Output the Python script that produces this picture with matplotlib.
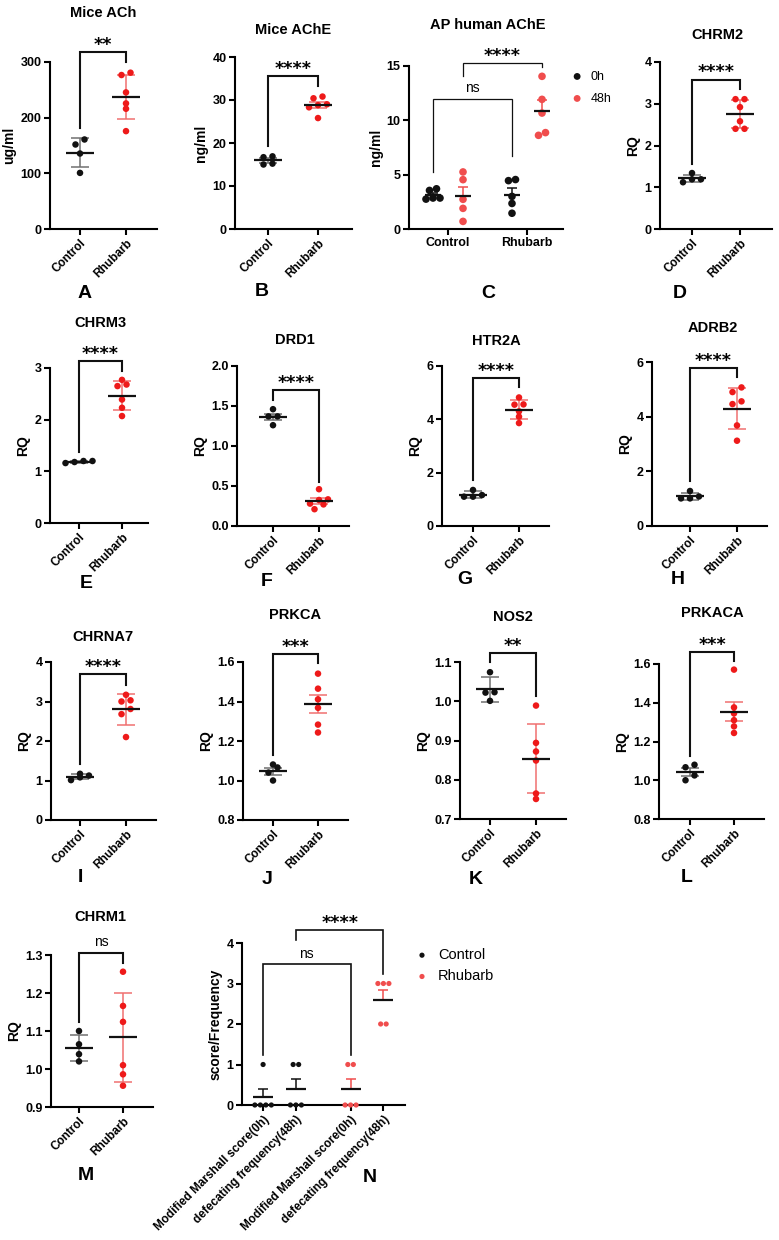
import numpy as np
import matplotlib
matplotlib.use('Agg')
import matplotlib.pyplot as plt
from matplotlib.ticker import FormatStrFormatter

plt.rcParams['font.family'] = ['Liberation Sans', 'DejaVu Sans']
plt.rcParams['font.weight'] = 'bold'
plt.rcParams['axes.labelweight'] = 'bold'

W, H = 779, 1240
BLACK = '#111111'
RED = '#ee1a1a'
RED_BAR = '#f07070'
RED_C = '#f04d4d'
GREY_BAR = '#707070'

groups = ['Control', 'Rhubarb']

# A  Mice ACh (ug/ml)
ach_control = [151.8, 160.8, 135.6, 100.8]
ach_rhubarb = [276.6, 280.8, 245.4, 225.6, 216.0, 175.8]
# B  Mice AChE (ng/ml)
ache_control = [16.7, 16.9, 15.0, 15.2]
ache_rhubarb = [30.4, 30.8, 28.8, 29.0, 28.3, 25.8]
# D  CHRM2
chrm2_control = [1.34, 1.19, 1.12, 1.19]
chrm2_rhubarb = [3.11, 3.11, 2.92, 2.58, 2.40, 2.40]
# E  CHRM3
chrm3_control = [1.16, 1.20, 1.18, 1.20]
chrm3_rhubarb = [2.77, 2.68, 2.65, 2.39, 2.23, 2.07]
# F  DRD1
drd1_control = [1.46, 1.37, 1.37, 1.26]
drd1_rhubarb = [0.46, 0.325, 0.333, 0.21, 0.28, 0.27]
# G  HTR2A
htr2a_control = [1.10, 1.16, 1.35, 1.10]
htr2a_rhubarb = [4.82, 4.56, 4.55, 4.30, 4.10, 3.86]
# H  ADRB2
adrb2_control = [1.01, 1.08, 1.28, 1.01]
adrb2_rhubarb = [5.07, 4.90, 4.46, 4.56, 3.68, 3.12]
# I  CHRNA7
chrna7_control = [1.17, 1.125, 1.01, 1.08]
chrna7_rhubarb = [3.17, 3.03, 3.00, 2.81, 2.68, 2.10]
# J  PRKCA
prkca_control = [1.066, 1.081, 1.04, 1.0]
prkca_rhubarb = [1.541, 1.465, 1.411, 1.368, 1.283, 1.243]
# K  NOS2
nos2_control = [1.074, 1.023, 1.022, 1.001]
nos2_rhubarb = [0.989, 0.894, 0.872, 0.849, 0.765, 0.751]
# L  PRKACA
prkaca_control = [1.067, 1.080, 1.000, 1.025]
prkaca_rhubarb = [1.571, 1.376, 1.345, 1.310, 1.278, 1.244]
# M  CHRM1
chrm1_control = [1.100, 1.065, 1.039, 1.020]
chrm1_rhubarb = [1.256, 1.166, 1.124, 1.010, 0.986, 0.956]

# C  AP human AChE (ng/ml)
ap_times = ['0h', '48h']
ap_control_0h = [3.70, 3.55, 2.75, 2.85, 2.85]
ap_control_48h = [5.25, 4.54, 2.73, 1.90, 0.70]
ap_rhubarb_0h = [4.55, 4.45, 3.00, 2.35, 1.45]
ap_rhubarb_48h = [14.05, 11.93, 10.67, 8.62, 8.87]

# N  score / frequency
n_labels = ['Modified Marshall score(0h)', 'defecating frequency(48h)',
            'Modified Marshall score(0h)', 'defecating frequency(48h)']
n_control_score = [1, 0, 0, 0, 0]
n_control_freq = [1, 1, 0, 0, 0]
n_rhubarb_score = [1, 1, 0, 0, 0]
n_rhubarb_freq = [3, 3, 3, 2, 2]

# letter, title, ylabel, control, rhubarb, (ymin, ymax, step), tick format, error type,
# significance (bar y, left leg end, right leg end, text)
panels = [
    ('A', 'Mice ACh', 'ug/ml', ach_control, ach_rhubarb, (0, 300, 100), '%d', 'sd', (318.6, 181.8, 300.6, '**')),
    ('B', 'Mice AChE', 'ng/ml', ache_control, ache_rhubarb, (0, 40, 10), '%d', 'sem', (35.5, 19.2, 33.3, '****')),
    ('D', 'CHRM2', 'RQ', chrm2_control, chrm2_rhubarb, (0, 4, 1), '%d', 'sd', (3.58, 1.56, 3.35, '****')),
    ('E', 'CHRM3', 'RQ', chrm3_control, chrm3_rhubarb, (0, 3, 1), '%d', 'sd', (3.13, 1.37, 2.95, '****')),
    ('F', 'DRD1', 'RQ', drd1_control, drd1_rhubarb, (0, 2, 0.5), '%.1f', 'sem', (1.70, 1.58, 0.554, '****')),
    ('G', 'HTR2A', 'RQ', htr2a_control, htr2a_rhubarb, (0, 6, 2), '%d', 'sd', (5.54, 1.725, 5.2, '****')),
    ('H', 'ADRB2', 'RQ', adrb2_control, adrb2_rhubarb, (0, 6, 2), '%d', 'sd', (5.78, 1.63, 5.45, '****')),
    ('I', 'CHRNA7', 'RQ', chrna7_control, chrna7_rhubarb, (0, 4, 1), '%d', 'sd', (3.70, 1.42, 3.42, '****')),
    ('J', 'PRKCA', 'RQ', prkca_control, prkca_rhubarb, (0.8, 1.6, 0.2), '%.1f', 'sem', (1.642, 1.128, 1.595, '***')),
    ('K', 'NOS2', 'RQ', nos2_control, nos2_rhubarb, (0.7, 1.1, 0.1), '%.1f', 'sd', (1.123, 1.099, 1.0125, '**')),
    ('L', 'PRKACA', 'RQ', prkaca_control, prkaca_rhubarb, (0.8, 1.6, 0.2), '%.1f', 'sem', (1.662, 1.123, 1.614, '***')),
    ('M', 'CHRM1', 'RQ', chrm1_control, chrm1_rhubarb, (0.9, 1.3, 0.1), '%.1f', 'sd', (1.3044, 1.124, 1.28, 'ns')),
]

# pixel layout: axes box (left, top, right, bottom), x of the two categories, title pos, letter pos
layout = {
    'A': ((50, 62, 157, 229), (80, 126), (103, 13), (85, 293)),
    'B': ((235, 57, 352, 229), (268, 318), (293, 30), (262, 292)),
    'C': ((409, 66, 563, 229), (448, 527), (488, 25), (488, 294)),
    'D': ((660, 62, 772, 229), (692, 740), (717, 35), (680, 293)),
    'E': ((50, 368, 148, 523), (79, 122), (100, 323), (86, 584)),
    'F': ((237, 366, 349, 526), (273, 319), (295, 340), (267, 582)),
    'G': ((442, 366, 549, 526), (473, 519), (496, 341), (465, 580)),
    'H': ((652, 362, 767, 526), (690, 737), (713, 328), (678, 580)),
    'I': ((51, 662, 156, 820), (80, 126), (103, 637), (80, 878)),
    'J': ((243, 662, 348, 820), (273, 318), (295, 615), (267, 879)),
    'K': ((460, 662, 566, 819), (490, 536), (513, 617), (476, 879)),
    'L': ((659, 664, 764, 819), (690, 734), (712, 613), (687, 878)),
    'M': ((51, 955, 153, 1107), (79, 123), (100, 917), (86, 1175)),
    'N': ((242, 943, 405, 1105), (279.5, 367), None, (370, 1177)),
}

fig = plt.figure(figsize=(W / 100, H / 100), dpi=100)


def add_axes_px(box):
    l, t, r, b = box
    return fig.add_axes([l / W, 1 - b / H, (r - l) / W, (b - t) / H])


def fig_text_px(x, y, s, **kw):
    fig.text(x / W, 1 - y / H, s, ha='center', va='center', **kw)


def setup(ax, box, cats, ylim, fmt):
    l, t, r, b = box
    c0, c1 = cats
    ax.set_xlim((l - c0) / (c1 - c0), (r - c0) / (c1 - c0))
    ymin, ymax, step = ylim
    ax.set_ylim(ymin, ymax)
    ax.set_yticks(np.arange(ymin, ymax + step / 2, step))
    ax.yaxis.set_major_formatter(FormatStrFormatter(fmt))
    ax.spines[['top', 'right']].set_visible(False)
    ax.spines[['left', 'bottom']].set_linewidth(1.5)
    ax.tick_params(width=1.5, length=4, labelsize=9, pad=2)
    ax.patch.set_alpha(0)


def px_scale(ax):
    p0 = ax.transData.transform((0, 0))
    p1 = ax.transData.transform((1, 1))
    return p1[0] - p0[0], p1[1] - p0[1]


def swarm(ax, x, v, gap, tol=5.2):
    sx, sy = px_scale(ax)
    order = np.argsort(v, kind='stable')
    rows = [[order[0]]]
    for i in order[1:]:
        if (v[i] - v[rows[-1][0]]) * sy < tol:
            rows[-1].append(i)
        else:
            rows.append([i])
    xs = np.full(len(v), float(x))
    for row in rows:
        n = len(row)
        for k, i in enumerate(row):
            xs[i] += (k - (n - 1) / 2) * gap / sx
    return xs


def group(ax, x, vals, color, bar_color, kind, size=22, gap=9, mean_half=14, cap_half=9,
          upper_only=False, label=None):
    sx, sy = px_scale(ax)
    v = np.asarray(vals, float)
    m = v.mean()
    e = v.std(ddof=1)
    if kind == 'sem':
        e /= np.sqrt(len(v))
    lo = m if upper_only else m - e
    ax.vlines(x, lo, m + e, color=bar_color, lw=1.1, zorder=2)
    caps = [m + e] if upper_only else [m + e, m - e]
    ax.hlines(caps, x - cap_half / sx, x + cap_half / sx, color=bar_color, lw=1.1, zorder=2)
    ax.scatter(swarm(ax, x, v, gap), v, s=size, color=color, edgecolors='none',
               zorder=3, clip_on=False, label=label)
    ax.hlines(m, x - mean_half / sx, x + mean_half / sx, color=BLACK, lw=1.6, zorder=4)


def bracket(ax, x1, x2, sig, lw=1.5):
    y, y1, y2, text = sig
    ax.plot([x1, x1, x2, x2], [y1, y, y, y2], color=BLACK, lw=lw, clip_on=False,
            solid_joinstyle='miter')
    if text == 'ns':
        ax.annotate(text, ((x1 + x2) / 2, y), xytext=(0, 5), textcoords='offset points',
                    ha='center', va='baseline', fontsize=10, fontweight='normal',
                    annotation_clip=False)
    else:
        ax.annotate(text, ((x1 + x2) / 2, y), xytext=(0, 1.5), textcoords='offset points',
                    ha='center', va='baseline', fontsize=12.5, fontweight='bold',
                    family='DejaVu Sans', annotation_clip=False)


for letter, title, ylabel, ctrl, rhu, ylim, fmt, kind, sig in panels:
    box, cats, tpos, lpos = layout[letter]
    ax = add_axes_px(box)
    setup(ax, box, cats, ylim, fmt)
    ax.set_xticks([0, 1], groups, rotation=45, ha='right', rotation_mode='anchor', fontsize=8.5)
    ax.set_ylabel(ylabel, fontsize=10, labelpad=3)
    group(ax, 0, ctrl, BLACK, GREY_BAR, kind)
    group(ax, 1, rhu, RED, RED_BAR, kind)
    bracket(ax, 0, 1, sig)
    fig_text_px(*tpos, title, fontsize=10.5)
    fig_text_px(*lpos, letter, fontsize=14)

# C: grouped by time
box, cats, tpos, lpos = layout['C']
ax = add_axes_px(box)
setup(ax, box, cats, (0, 15, 5), '%d')
ax.set_xticks([0, 1], groups, fontsize=9)
ax.set_ylabel('ng/ml', fontsize=10, labelpad=3)
off = 0.19
kw = dict(kind='sem', size=30, gap=7, mean_half=8, cap_half=5, upper_only=True)
group(ax, -off, ap_control_0h, BLACK, BLACK, label=ap_times[0], **kw)
group(ax, off, ap_control_48h, RED_C, RED_C, label=ap_times[1], **kw)
group(ax, 1 - off, ap_rhubarb_0h, BLACK, BLACK, **kw)
group(ax, 1 + off, ap_rhubarb_48h, RED_C, RED_C, **kw)
bracket(ax, -off, 1 - off, (12.0, 5.25, 6.7, 'ns'), lw=0.9)
bracket(ax, off, 1 + off, (15.3, 14.1, 14.9, '****'), lw=0.9)
ax.legend(loc='upper left', bbox_to_anchor=(0.97, 1.04), frameon=False,
          prop={'size': 9, 'weight': 'normal'}, handletextpad=0.5, labelspacing=0.8,
          handlelength=1.2, markerscale=0.9)
fig_text_px(*tpos, 'AP human AChE', fontsize=10.5)
fig_text_px(*lpos, 'C', fontsize=14)

# N: score / frequency
box, cats, tpos, lpos = layout['N']
ax = add_axes_px(box)
setup(ax, box, cats, (0, 4, 1), '%d')
off = 0.1875
ax.set_xticks([-off, off, 1 - off, 1 + off], n_labels, rotation=45, ha='right',
              rotation_mode='anchor', fontsize=8.5)
ax.set_ylabel('score/Frequency', fontsize=10, labelpad=3)
kw = dict(kind='sem', size=14, gap=5.5, mean_half=10, cap_half=5, upper_only=True)
group(ax, -off, n_control_score, BLACK, BLACK, label=groups[0], **kw)
group(ax, off, n_control_freq, BLACK, BLACK, **kw)
group(ax, 1 - off, n_rhubarb_score, RED_C, RED_C, label=groups[1], **kw)
group(ax, 1 + off, n_rhubarb_freq, RED_C, RED_C, **kw)
bracket(ax, -off, 1 - off, (3.47, 1.23, 1.23, 'ns'), lw=1.2)
bracket(ax, off, 1 + off, (4.33, 4.08, 3.245, '****'), lw=1.2)
ax.legend(loc='upper left', bbox_to_anchor=(0.97, 1.05), frameon=False,
          prop={'size': 10.5, 'weight': 'normal'}, handletextpad=0.5, labelspacing=0.5,
          handlelength=1.2)
fig_text_px(*lpos, 'N', fontsize=14)

fig.savefig('out.png', dpi=100)
